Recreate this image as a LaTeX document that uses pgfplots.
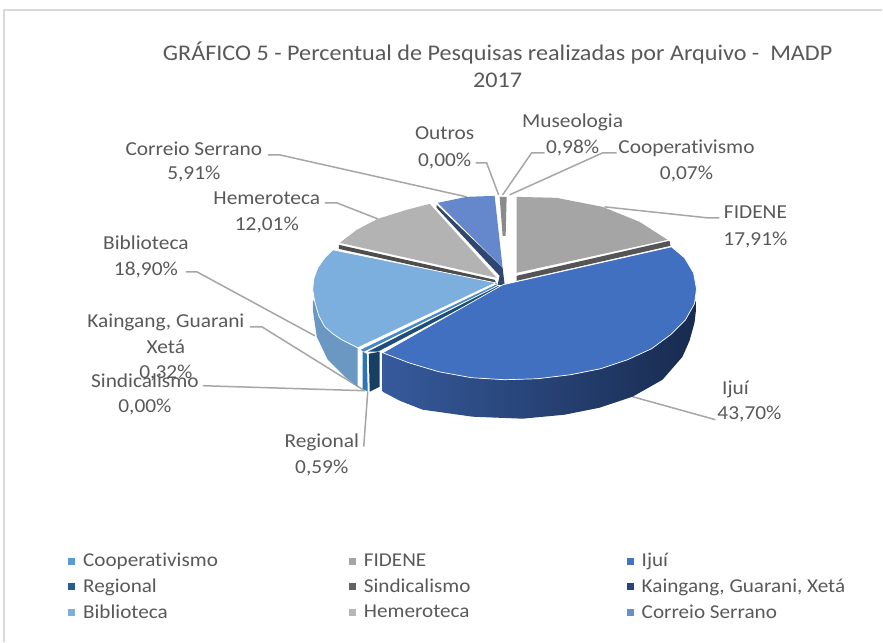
\documentclass[border=0pt]{standalone}
\usepackage{pgfplots}
\pgfplotsset{compat=1.18}
\usepackage{fontspec}
\setmainfont[FakeStretch=1.08,Ligatures=NoCommon]{Carlito}
\definecolor{txt}{HTML}{595959}
\definecolor{lead}{HTML}{A6A6A6}
\definecolor{chartframe}{HTML}{D9D9D9}
\definecolor{cCoop}{HTML}{5B9BD5}
\definecolor{cFid}{HTML}{A5A5A5}
\definecolor{cIju}{HTML}{4472C4}
\definecolor{cReg}{HTML}{255E91}
\definecolor{cSin}{HTML}{636363}
\definecolor{cKai}{HTML}{264478}
\definecolor{cBib}{HTML}{7CAFDD}
\definecolor{cHem}{HTML}{B7B7B7}
\definecolor{cCor}{HTML}{698ED0}
\newcommand{\lab}[3]{\node[anchor=base,text=txt,inner sep=0pt,font=\fontsize{19.8}{22}\selectfont] at (axis cs:#1,#2+6.5) {#3};}
\newcommand{\lent}[1]{\makebox[264pt][l]{#1}}
\newcommand{\lentb}[1]{\makebox[261pt][l]{#1}}
\newcommand{\limg}[1]{\addlegendimage{only marks,mark=square*,mark size=3pt,mark options={draw=#1,fill=#1}}}
\begin{document}
\begin{tikzpicture}
\begin{axis}[
  width=883pt,height=642pt,scale only axis,
  xmin=0,xmax=883,ymin=0,ymax=642,y dir=reverse,
  axis lines=none,clip=false,
  legend columns=3,
  legend cell align=left,
  legend style={draw=none,fill=none,at={(axis cs:68,551.5)},anchor=north west,
    font=\fontsize{19.6}{22}\selectfont,text=txt,inner sep=0pt,
    /tikz/every odd column/.append style={column sep=7pt},
    row sep=6.7pt},
]
% legend
\limg{cCoop}\addlegendentry{\lent{Cooperativismo}}
\limg{cFid}\addlegendentry{\lentb{FIDENE}}
\limg{cIju}\addlegendentry{Ijuí}
\limg{cReg}\addlegendentry{\lent{Regional}}
\limg{cSin}\addlegendentry{\lentb{Sindicalismo}}
\limg{cKai}\addlegendentry{Kaingang, Guarani, Xetá}
\limg{cBib}\addlegendentry{\lent{Biblioteca}}
\limg{cHem}\addlegendentry{\lentb{Hemeroteca}}
\limg{cCor}\addlegendentry{Correio Serrano}
% page extent
\addplot[forget plot,draw=none] coordinates {(0,0)(883,642)};
% frame
\addplot[forget plot,draw=chartframe,line width=1.3pt] coordinates {(4,642)(4,10)(883,10)};
% leader lines
\addplot[forget plot,lead,line width=1.5pt] coordinates {(268,155)(280,155)(467,197)};
\addplot[forget plot,lead,line width=1.5pt] coordinates {(325,203)(337,203)(378,219)};
\addplot[forget plot,lead,line width=1.5pt] coordinates {(186,272)(197,272)(315,336)};
\addplot[forget plot,lead,line width=1.5pt] coordinates {(250,327)(262,327)(365,391)};
\addplot[forget plot,lead,line width=1.5pt] coordinates {(203,386)(365,391)};
\addplot[forget plot,lead,line width=1.5pt] coordinates {(364,447)(368,392)};
\addplot[forget plot,lead,line width=1.5pt] coordinates {(633,397)(716,420)};
\addplot[forget plot,lead,line width=1.5pt] coordinates {(605,207)(708,218)(720,218)};
\addplot[forget plot,lead,line width=1.5pt] coordinates {(510,195)(603,153)(617,153)};
\addplot[forget plot,lead,line width=1.5pt] coordinates {(503,195)(532,153)(545,153)};
\addplot[forget plot,lead,line width=1.5pt] coordinates {(476,163)(487,163)(499,195)};
% side faces
\addplot[forget plot,fill={rgb,255:red,107;green,152;blue,194},draw=none] coordinates {(313,300)(315,302)(319,316)(325,327)(333,334)(342,340)(358,348)(358,387)(345,377)(328,360)(317,337)(313,310)} --cycle;
\addplot[forget plot,fill={rgb,255:red,46;green,117;blue,182},draw=none] coordinates {(363,352)(367,354)(368,392)(363,389)} --cycle;
\addplot[forget plot,fill={rgb,255:red,23;green,63;blue,97},draw=none] coordinates {(369,354)(380,352)(380,387)(370,392)} --cycle;
\addplot[forget plot,left color={rgb,255:red,54;green,90;blue,156},middle color={rgb,255:red,27;green,46;blue,86},right color={rgb,255:red,24;green,43;blue,79},draw=none] coordinates {(697,300)(686,320)(671,335)(652,349)(628,360)(601,369)(571,375)(538,379)(505,380)(472,378)(439,372)(409,363)(383,353)(383,392)(400,401)(423,410)(473,417)(523,419)(565,415)(600,408)(633,397)(663,380)(683,357)(690,341)(695,323)(697,306)} --cycle;
% dark edge strips
\addplot[forget plot,fill={rgb,255:red,85;green,85;blue,85},draw=none] coordinates {(517,276)(670,241)(671,246)(517,281)} --cycle;
\addplot[forget plot,fill={rgb,255:red,77;green,77;blue,77},draw=none] coordinates {(339,245)(495,280)(497,284)(339,249)} --cycle;
\addplot[forget plot,fill={rgb,255:red,47;green,71;blue,112},draw=none] coordinates {(437,205)(503,268)(505,285)(498,285)(500,276)(437,208)} --cycle;
% thin slices
\addplot[forget plot,fill={rgb,255:red,75;green,135;blue,196},draw=none] coordinates {(361,350)(364,352)(497,286)(497,284.5)} --cycle;
\addplot[forget plot,fill={rgb,255:red,31;green,78;blue,121},draw=none] coordinates {(368,352)(378,352)(500,288)(499,286)} --cycle;
% top faces
\addplot[forget plot,fill={rgb,255:red,165;green,165;blue,165},draw=none] coordinates {(517,197)(557,198)(603,207)(640,222)(668,240)(517,273)} --cycle;
\addplot[forget plot,fill={rgb,255:red,179;green,179;blue,179},draw=none] coordinates {(340,243)(357,230)(378,219)(407,210)(430,204)(497,278)} --cycle;
\addplot[forget plot,fill={rgb,255:red,101;green,136;blue,205},draw=none] coordinates {(438,203)(467,197)(495,196)(503,268)} --cycle;
\addplot[forget plot,fill={rgb,255:red,138;green,138;blue,138},draw=none] coordinates {(500,197)(507,197)(506,236)(503,236)} --cycle;
\addplot[forget plot,fill={rgb,255:red,124;green,175;blue,221},draw=white,line width=0.7pt] coordinates {(496,283)(333,250)(325,258)(318,268)(314,279)(313,290)(315,302)(319,316)(325,327)(333,334)(342,340)(358,348)} --cycle;
\addplot[forget plot,fill={rgb,255:red,66;green,112;blue,193},draw=white,line width=0.7pt] coordinates {(503,285)(672,247)(685,258)(694,273)(697,289)(695,304)(686,320)(671,335)(652,349)(628,360)(601,369)(571,375)(538,379)(505,380)(472,378)(439,372)(409,363)(383,353)} --cycle;
% title
\node[anchor=base,text=txt,inner sep=0pt,font=\fontsize{22.4}{25}\selectfont] at (axis cs:498,61) {GRÁFICO 5 - Percentual de Pesquisas realizadas por Arquivo -\ \ MADP};
\node[anchor=base,text=txt,inner sep=0pt,font=\fontsize{22.4}{25}\selectfont] at (axis cs:498,88) {2017};
% labels
\lab{445}{133}{Outros}\lab{445}{160}{0,00\%}
\lab{573}{121}{Museologia}\lab{573}{147}{0,98\%}
\lab{687}{147}{Cooperativismo}\lab{687}{173}{0,07\%}
\lab{756}{212}{FIDENE}\lab{756}{239}{17,91\%}
\lab{736}{388}{Ijuí}\lab{750}{413}{43,70\%}
\lab{322}{441}{Regional}\lab{322}{467}{0,59\%}
\lab{166}{321}{Kaingang, Guarani}\lab{166}{347}{Xetá}\lab{166}{372}{0,32\%}
\lab{145}{381}{Sindicalismo}\lab{145}{406}{0,00\%}
\lab{146}{243}{Biblioteca}\lab{146}{269}{18,90\%}
\lab{267}{198}{Hemeroteca}\lab{267}{224}{12,01\%}
\lab{194}{149}{Correio Serrano}\lab{194}{173}{5,91\%}
\end{axis}
\end{tikzpicture}
\end{document}
